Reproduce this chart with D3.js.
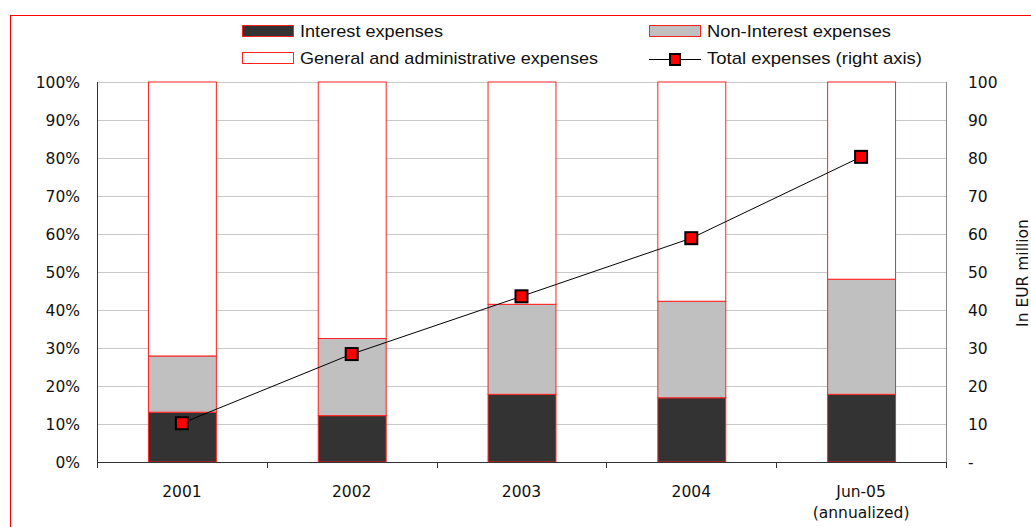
<!DOCTYPE html>
<html>
<head>
<meta charset="utf-8">
<script src="https://cdn.jsdelivr.net/npm/d3@7"></script>
<style>
  html, body { margin: 0; padding: 0; background: #fff; }
  svg { display: block; }
  text { font-family: "DejaVu Sans", sans-serif; fill: #111; }
</style>
</head>
<body>
<svg id="chart" width="1031" height="527"></svg>
<script>
// ---- data ----
const categories = ["2001", "2002", "2003", "2004", "Jun-05"];
const categorySubLabels = ["", "", "", "", "(annualized)"];
const interestPct = [13.1, 12.2, 17.8, 16.9, 17.8];
const nonInterestPct = [14.8, 20.3, 23.7, 25.4, 30.3];
const generalAdminPct = [72.1, 67.5, 58.5, 57.7, 51.9];
const totalExpenses = [10.2, 28.4, 43.6, 58.9, 80.3];
const leftTicks = [0, 10, 20, 30, 40, 50, 60, 70, 80, 90, 100];
const leftTickLabels = ["0%", "10%", "20%", "30%", "40%", "50%", "60%", "70%", "80%", "90%", "100%"];
const rightTicks = [0, 10, 20, 30, 40, 50, 60, 70, 80, 90, 100];
const rightTickLabels = ["-", "10", "20", "30", "40", "50", "60", "70", "80", "90", "100"];
const seriesNames = ["Interest expenses", "Non-Interest expenses", "General and administrative expenses", "Total expenses (right axis)"];
const rightAxisTitle = "In EUR million";

// ---- layout ----
const svg = d3.select("#chart");
const L = 97, R = 946, T = 82, B = 462;
const x = d3.scaleBand().domain(categories).range([L, R]).paddingInner(0.6).paddingOuter(0.3);
const yL = d3.scaleLinear().domain([0, 100]).range([B, T]);
const yR = d3.scaleLinear().domain([0, 100]).range([B, T]);
const colors = ["#333333", "#c0c0c0", "#ffffff"];

// outer border
svg.append("rect").attr("x", 10.5).attr("y", 15.5).attr("width", 1040).attr("height", 540)
  .attr("fill", "none").attr("stroke", "#ff0000").attr("stroke-width", 1);

// gridlines
svg.append("g").selectAll("line").data(leftTicks.slice(1)).join("line")
  .attr("x1", L).attr("x2", R)
  .attr("y1", d => Math.round(yL(d)) + 0.5).attr("y2", d => Math.round(yL(d)) + 0.5)
  .attr("stroke", "#c8c8c8").attr("stroke-width", 1);

// stacked bars
const rows = categories.map((c, i) => ({ c, vals: [interestPct[i], nonInterestPct[i], generalAdminPct[i]] }));
const stackG = svg.append("g");
rows.forEach(r => {
  let base = 0;
  r.vals.forEach((v, k) => {
    const y0 = yL(base), y1 = yL(base + v);
    stackG.append("rect")
      .attr("x", x(r.c) + 0.5).attr("width", x.bandwidth())
      .attr("y", y1).attr("height", y0 - y1)
      .attr("fill", colors[k]).attr("stroke", "#ff2020").attr("stroke-width", 1);
    base += v;
  });
});

// axes lines
svg.append("line").attr("x1", L + 0.5).attr("x2", L + 0.5).attr("y1", T).attr("y2", B)
  .attr("stroke", "#333").attr("stroke-width", 1);
svg.append("line").attr("x1", R + 0.5).attr("x2", R + 0.5).attr("y1", T).attr("y2", B + 6)
  .attr("stroke", "#888").attr("stroke-width", 1);
svg.append("line").attr("x1", L).attr("x2", R + 1).attr("y1", B + 0.5).attr("y2", B + 0.5)
  .attr("stroke", "#333").attr("stroke-width", 1);
// category separator ticks
const step = x.step();
svg.append("g").selectAll("line").data(d3.range(0, categories.length + 1)).join("line")
  .attr("x1", k => Math.round(L + k * step) + 0.5).attr("x2", k => Math.round(L + k * step) + 0.5)
  .attr("y1", B).attr("y2", B + 6).attr("stroke", "#333");

// left tick labels
svg.append("g").selectAll("text").data(leftTicks).join("text")
  .attr("x", 80).attr("y", d => yL(d)).attr("dy", "0.36em")
  .attr("text-anchor", "end").style("font-size", "15.5px")
  .text((d, i) => leftTickLabels[i]);

// right tick labels
svg.append("g").selectAll("text").data(rightTicks).join("text")
  .attr("x", 968).attr("y", d => yR(d)).attr("dy", "0.36em")
  .attr("text-anchor", "start").style("font-size", "15.5px")
  .text((d, i) => rightTickLabels[i]);

// category labels
categories.forEach((c, i) => {
  const cx = x(c) + x.bandwidth() / 2;
  svg.append("text").attr("x", cx).attr("y", 497).attr("text-anchor", "middle")
    .style("font-size", "15.5px").text(c);
  if (categorySubLabels[i]) {
    svg.append("text").attr("x", cx).attr("y", 518).attr("text-anchor", "middle")
      .style("font-size", "15.5px").text(categorySubLabels[i]);
  }
});

// right axis title
svg.append("text").attr("transform", "translate(1028,273) rotate(-90)")
  .attr("text-anchor", "middle").style("font-size", "15.5px").text(rightAxisTitle);

// line series
const cxOf = (c) => x(c) + x.bandwidth() / 2;
const lineData = categories.map((c, i) => ({ c, v: totalExpenses[i] }));
svg.append("path").datum(lineData)
  .attr("d", d3.line().x(d => cxOf(d.c)).y(d => yR(d.v)))
  .attr("fill", "none").attr("stroke", "#000").attr("stroke-width", 1);
svg.append("g").selectAll("rect").data(lineData).join("rect")
  .attr("x", d => cxOf(d.c) - 6).attr("y", d => yR(d.v) - 6)
  .attr("width", 12).attr("height", 12)
  .attr("fill", "#ff0000").attr("stroke", "#000").attr("stroke-width", 2);

// legend
const legend = [
  { name: seriesNames[0], type: "box", fill: colors[0], x: 242, y: 25, tx: 300, tw: 143 },
  { name: seriesNames[1], type: "box", fill: colors[1], x: 649, y: 25, tx: 707, tw: 184 },
  { name: seriesNames[2], type: "box", fill: colors[2], x: 242, y: 52, tx: 300, tw: 298 },
  { name: seriesNames[3], type: "line", x: 649, y: 52, tx: 707, tw: 215 }
];
const lg = svg.append("g");
legend.forEach(d => {
  if (d.type === "box") {
    lg.append("rect").attr("x", d.x + 0.5).attr("y", d.y + 0.5).attr("width", 51).attr("height", 11)
      .attr("fill", d.fill).attr("stroke", "#ff2020");
  } else {
    lg.append("line").attr("x1", d.x).attr("x2", d.x + 52).attr("y1", d.y + 7.5).attr("y2", d.y + 7.5)
      .attr("stroke", "#000");
    lg.append("rect").attr("x", d.x + 21).attr("y", d.y + 2).attr("width", 10).attr("height", 11)
      .attr("fill", "#ff0000").attr("stroke", "#000").attr("stroke-width", 2);
  }
  lg.append("text").attr("x", d.tx).attr("y", d.y + 12)
    .style("font-family", "'Liberation Sans', Arial, sans-serif").style("font-size", "17px")
    .attr("textLength", d.tw).attr("lengthAdjust", "spacingAndGlyphs")
    .text(d.name);
});
</script>
</body>
</html>
